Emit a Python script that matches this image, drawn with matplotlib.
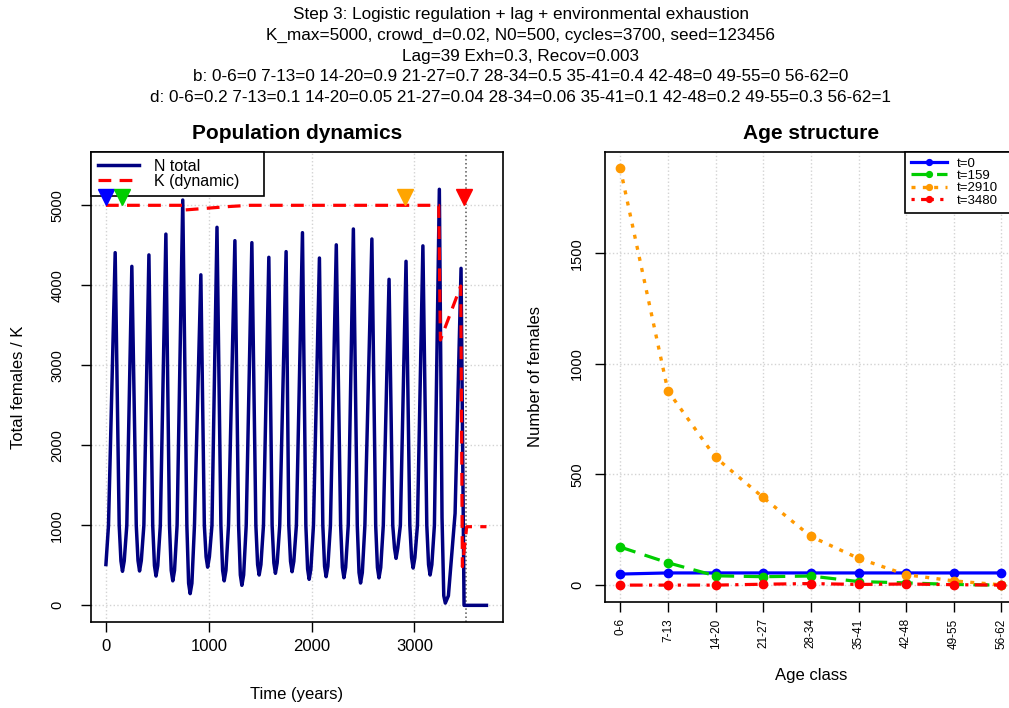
import matplotlib
matplotlib.use("Agg")
import matplotlib.pyplot as plt

plt.rcParams['font.family'] = ['Liberation Sans', 'DejaVu Sans']

# Title lines
title_lines = [
    "Step 3: Logistic regulation + lag + environmental exhaustion",
    "K_max=5000, crowd_d=0.02, N0=500, cycles=3700, seed=123456",
    "Lag=39 Exh=0.3, Recov=0.003",
    "b: 0-6=0 7-13=0 14-20=0.9 21-27=0.7 28-34=0.5 35-41=0.4 42-48=0 49-55=0 56-62=0",
    "d: 0-6=0.2 7-13=0.1 14-20=0.05 21-27=0.04 28-34=0.06 35-41=0.1 42-48=0.2 49-55=0.3 56-62=1",
]

# N total: key points (start, troughs with flanks, peaks, collapse)
n_time = [0, 25, 90,
          129, 146, 161, 178, 203, 252,
          295, 312, 327, 344, 369, 418,
          455, 472, 487, 504, 529, 583,
          618, 635, 650, 667, 692, 747,
          787, 804, 819, 836, 861, 923,
          957, 974, 989, 1006, 1031, 1080,
          1118, 1135, 1150, 1167, 1192, 1254,
          1290, 1307, 1322, 1339, 1364, 1419,
          1458, 1475, 1490, 1507, 1532, 1584,
          1616, 1633, 1648, 1665, 1690, 1752,
          1778, 1795, 1810, 1827, 1852, 1911,
          1944, 1961, 1976, 1993, 2018, 2076,
          2109, 2126, 2141, 2158, 2183, 2240,
          2282, 2299, 2314, 2331, 2356, 2406,
          2444, 2461, 2476, 2493, 2518, 2586,
          2623, 2640, 2655, 2672, 2697, 2753,
          2789, 2806, 2821, 2838, 2863, 2918,
          2955, 2972, 2987, 3004, 3029, 3082,
          3120, 3137, 3152, 3169, 3194, 3242,
          3268, 3285, 3300, 3330, 3395, 3453,
          3482, 3700]
n_total = [510, 1000, 4408,
           1000, 555, 425, 555, 1000, 4237,
           1000, 559, 429, 559, 1000, 4380,
           1000, 496, 366, 496, 1000, 4640,
           1000, 436, 306, 436, 1000, 5066,
           1000, 276, 146, 276, 1000, 4131,
           1000, 607, 477, 607, 1000, 4725,
           1000, 436, 306, 436, 1000, 4558,
           1000, 380, 250, 380, 1000, 4533,
           1000, 509, 379, 509, 1000, 4350,
           1000, 530, 400, 530, 1000, 4421,
           1000, 550, 420, 550, 1000, 4658,
           1000, 455, 325, 455, 1000, 4341,
           1000, 488, 358, 488, 1000, 4506,
           1000, 475, 345, 475, 1000, 4704,
           1000, 409, 279, 409, 1000, 4579,
           1000, 473, 343, 473, 1000, 4075,
           1000, 717, 587, 717, 1000, 4300,
           1000, 596, 466, 596, 1000, 4493,
           1000, 509, 379, 509, 1000, 5200,
           1100, 120, 28, 120, 1150, 4212,
           0, 0]

# K (dynamic)
k_time = [0, 747, 750, 1000, 1200, 1400, 3236, 3252, 3450, 3466, 3508, 3700]
k_val = [5000, 5000, 4940, 4965, 4985, 5000, 5000, 3316, 3991, 483, 983, 983]

# snapshot markers
snap_times = [0, 159, 2910, 3480]
snap_colors = ['#0000FF', '#00CD00', '#FFA500', '#FF0000']
snap_y = 5110
extinct_t = 3505

# Age structure
age_classes = ["0-6", "7-13", "14-20", "21-27", "28-34", "35-41", "42-48", "49-55", "56-62"]
n_t0 = [50, 55, 55, 55, 55, 55, 55, 55, 55]
n_t159 = [172, 101, 42, 38, 41, 16, 10, 3, 0]
n_t2910 = [1884, 878, 577, 396, 220, 121, 47, 19, 1]
n_t3480 = [0, 0, 0, 4, 7, 3, 5, 2, 0]

W, H = 1009, 708
fig = plt.figure(figsize=(W / 100, H / 100), dpi=100)

def px_axes(x0, y0, x1, y1):
    return fig.add_axes([x0 / W, 1 - y1 / H, (x1 - x0) / W, (y1 - y0) / H])

for i, line in enumerate(title_lines):
    fig.text(521 / W, 1 - (15 + i * 20.5) / H, line, ha='center', va='center', fontsize=12.3)

grid_kw = dict(color='#d3d3d3', linestyle=':', linewidth=1)

# ---------------- left: population dynamics
ax1 = px_axes(90.7, 151.7, 502.7, 622.3)
ax1.set_xlim(-148, 3858)
ax1.set_ylim(-212, 5670)
ax1.set_xticks([0, 1000, 2000, 3000])
ax1.set_yticks([0, 1000, 2000, 3000, 4000, 5000])
ax1.grid(True, **grid_kw)
ax1.set_axisbelow(True)
ax1.plot(n_time, n_total, color='#000080', linewidth=2.5, label='N total', zorder=3)
ax1.plot(k_time, k_val, color='#FF0000', linewidth=2.3, linestyle=(0, (4, 2.6)), label='K (dynamic)', zorder=4)
for t, c in zip(snap_times, snap_colors):
    ax1.plot([t], [snap_y], marker='v', markersize=11, color=c, markeredgecolor=c, zorder=7)
ax1.axvline(extinct_t, color='#555555', linestyle=':', linewidth=1.1, zorder=2)
ax1.set_title("Population dynamics", fontsize=15, fontweight='bold', pad=9)
ax1.set_xlabel("Time (years)", fontsize=12)
ax1.set_ylabel("Total females / K", fontsize=12)
ax1.xaxis.set_label_coords(0.5, -0.137)
ax1.yaxis.set_label_coords(-0.157, 0.5)
ax1.tick_params(axis='both', direction='out', length=7, width=1)
ax1.tick_params(axis='x', labelsize=12, pad=5)
ax1.tick_params(axis='y', labelsize=10.5, pad=12)
for lab in ax1.get_yticklabels():
    lab.set_rotation(90)
    lab.set_va('center')
leg1 = ax1.legend(loc='upper left', bbox_to_anchor=(0, 0, (264 - 90.7) / 412, 1), mode='expand',
                  borderaxespad=0, fontsize=11.5, fancybox=False,
                  edgecolor='black', framealpha=1, handlelength=2.6, handletextpad=0.9,
                  labelspacing=0.0, borderpad=0.45)
leg1.get_frame().set_linewidth(1.2)
leg1.set_zorder(6)

# ---------------- right: age structure
x_idx = list(range(1, len(age_classes) + 1))
ax2 = px_axes(605, 151.7, 1016.7, 601.7)
ax2.set_xlim(0.68, 9.32)
ax2.set_ylim(-75, 1959)
ax2.set_xticks(x_idx)
ax2.set_xticklabels(age_classes, rotation=90)
ax2.set_yticks([0, 500, 1000, 1500])
ax2.grid(True, **grid_kw)
ax2.set_axisbelow(True)
ax2.plot(x_idx, n_t0, color='#0000FF', linestyle='-', linewidth=2.3, marker='o', markersize=6, label='t=0')
ax2.plot(x_idx, n_t159, color='#00CD00', linestyle=(0, (5, 3)), linewidth=2.3, marker='o', markersize=6, label='t=159')
ax2.plot(x_idx, n_t2910, color='#FF9900', linestyle=(0, (1.2, 2.2)), linewidth=2.4, marker='o', markersize=6, label='t=2910')
ax2.plot(x_idx, n_t3480, color='#FF0000', linestyle=(0, (1, 2, 4, 2)), linewidth=2.3, marker='o', markersize=6, label='t=3480')
ax2.set_title("Age structure", fontsize=15, fontweight='bold', pad=9)
ax2.set_xlabel("Age class", fontsize=12)
ax2.set_ylabel("Number of females", fontsize=12)
ax2.xaxis.set_label_coords(0.5, -0.147)
ax2.yaxis.set_label_coords(-0.151, 0.5)
ax2.tick_params(axis='both', direction='out', length=7, width=1)
ax2.tick_params(axis='x', labelsize=8.5, pad=5)
ax2.tick_params(axis='y', labelsize=10.5, pad=8)
for lab in ax2.get_yticklabels():
    lab.set_rotation(90)
    lab.set_va('center')
leg2 = ax2.legend(loc='upper right', bbox_to_anchor=((905 - 605) / 411.7, 0, 1 - (905 - 605) / 411.7, 1),
                  mode='expand', borderaxespad=0, fontsize=9.5, fancybox=False,
                  edgecolor='black', framealpha=1, handlelength=2.7, handletextpad=0.75,
                  labelspacing=0.0, borderpad=0.45, markerscale=0.7)
leg2.get_frame().set_linewidth(1.2)

for ax in (ax1, ax2):
    for s in ax.spines.values():
        s.set_linewidth(1.2)

fig.savefig("out.png", dpi=100)
